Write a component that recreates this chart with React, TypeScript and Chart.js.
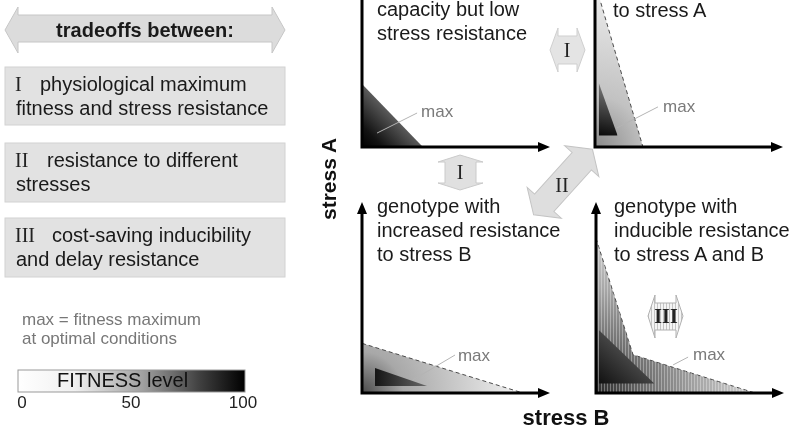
import React, { useEffect, useRef } from 'react';
import { Chart, registerables } from 'chart.js';
Chart.register(...registerables);

// ---------- data (each quadrant in its own axis units: stress B = x, stress A = y, 0..100) ----------
const AXIS_MAX = 100;

// top-left: high fitness capacity but low stress resistance
const tlTolerance = [{ x: 0, y: 33 }, { x: 32.4, y: 0 }];
const tlMaxLine = [{ x: 8, y: 7.3 }, { x: 29.3, y: 17.8 }];
const tlMaxLabel = { x: 31.4, y: 15.7 };

// top-right: increased resistance to stress A
const trTolerance = [{ x: 0, y: 86 }, { x: 25.5, y: 0 }];
const trOptimum = [{ x: 2, y: 33.5 }, { x: 12, y: 6 }];
const trOptimumBase = 6;
const trMaxLine = [{ x: 11.7, y: 10 }, { x: 33.5, y: 21 }];
const trMaxLabel = { x: 36.2, y: 18.3 };

// bottom-left: increased resistance to stress B
const blTolerance = [{ x: 0, y: 26 }, { x: 85.6, y: 0 }];
const blOptimum = [{ x: 6.9, y: 13.1 }, { x: 34.6, y: 3.7 }];
const blOptimumBase = 3.7;
const blMaxLine = [{ x: 27, y: 6.8 }, { x: 49.5, y: 19.9 }];
const blMaxLabel = { x: 51, y: 16.8 };

// bottom-right: inducible resistance to stress A and B
const brTolerance = [{ x: 0, y: 81 }, { x: 19.7, y: 20 }, { x: 84.6, y: 0 }];
const brOptimum = [{ x: 1.5, y: 33 }, { x: 31, y: 5 }];
const brOptimumBase = 5;
const brMaxLine = [{ x: 41, y: 14.7 }, { x: 49, y: 18.8 }];
const brMaxLabel = { x: 51.6, y: 17.3 };

// colour bar
const fitnessTicks = ['0', '50', '100'];

type Pt = { x: number; y: number };
type Stops = [number, string][];
type Paint =
  | { kind: 'linear'; from: Pt; to: Pt; stops: Stops }
  | { kind: 'radial'; at: Pt; r: number; stops: Stops }
  | { kind: 'hatch' };

function paint(chart: any, p: Paint): any {
  if (!chart.chartArea) return 'rgba(0,0,0,0)';
  const xs = chart.scales.x;
  const ys = chart.scales.y;
  const c: CanvasRenderingContext2D = chart.ctx;
  if (p.kind === 'linear') {
    const g = c.createLinearGradient(
      xs.getPixelForValue(p.from.x), ys.getPixelForValue(p.from.y),
      xs.getPixelForValue(p.to.x), ys.getPixelForValue(p.to.y));
    p.stops.forEach(([o, col]) => g.addColorStop(o, col));
    return g;
  }
  if (p.kind === 'radial') {
    const cx = xs.getPixelForValue(p.at.x);
    const cy = ys.getPixelForValue(p.at.y);
    const g = c.createRadialGradient(cx, cy, 0, cx, cy, p.r);
    p.stops.forEach(([o, col]) => g.addColorStop(o, col));
    return g;
  }
  const cv = document.createElement('canvas');
  cv.width = 3; cv.height = 3;
  const pc = cv.getContext('2d')!;
  pc.fillStyle = 'rgba(255,255,255,0.32)';
  pc.fillRect(0, 0, 1, 3);
  return c.createPattern(cv, 'repeat');
}

function shape(data: Pt[], base: number, p: Paint, order: number, dashed: boolean) {
  return {
    data,
    fill: { value: base },
    backgroundColor: (ctx: any) => paint(ctx.chart, p),
    borderColor: dashed ? '#4a4a4a' : 'rgba(0,0,0,0)',
    borderWidth: 1,
    borderDash: [4, 3],
    pointRadius: 0,
    tension: 0,
    order,
  };
}

function leader(data: Pt[]) {
  return { data, fill: false, borderColor: '#b4b4b4', borderWidth: 1, pointRadius: 0, tension: 0, order: 0 };
}

const FONT = '"Liberation Sans", Arial, sans-serif';
const SERIF = '"Liberation Serif", "Times New Roman", serif';

function axesPlugin(label: Pt) {
  return {
    id: 'axesAndMax',
    afterDatasetsDraw(chart: any) {
      const c: CanvasRenderingContext2D = chart.ctx;
      const xs = chart.scales.x, ys = chart.scales.y;
      const ox = xs.getPixelForValue(0), oy = ys.getPixelForValue(0);
      const xe = xs.getPixelForValue(AXIS_MAX), ye = ys.getPixelForValue(AXIS_MAX);
      c.save();
      c.strokeStyle = '#000';
      c.fillStyle = '#000';
      c.lineWidth = 3;
      c.beginPath();
      c.moveTo(ox - 1.5, oy);
      c.lineTo(xe - 8, oy);
      c.moveTo(ox, oy + 1.5);
      c.lineTo(ox, ye + 8);
      c.stroke();
      c.beginPath();
      c.moveTo(xe, oy); c.lineTo(xe - 12, oy - 5); c.lineTo(xe - 12, oy + 5); c.closePath();
      c.moveTo(ox, ye); c.lineTo(ox - 5, ye + 12); c.lineTo(ox + 5, ye + 12); c.closePath();
      c.fill();
      c.font = '17px ' + FONT;
      c.fillStyle = '#7a7a7a';
      c.textBaseline = 'alphabetic';
      c.fillText('max', xs.getPixelForValue(label.x), ys.getPixelForValue(label.y));
      c.restore();
    },
  };
}

const PAD = 10;
const CW = 188 + 2 * PAD;
const CH = 191 + 2 * PAD;

function Quadrant({ datasets, label, left, top }: { datasets: any[]; label: Pt; left: number; top: number }) {
  const ref = useRef<HTMLCanvasElement>(null);
  useEffect(() => {
    const chart = new Chart(ref.current!, {
      type: 'line',
      data: { datasets },
      options: {
        animation: false,
        responsive: false,
        devicePixelRatio: 1,
        events: [],
        layout: { padding: PAD },
        plugins: { legend: { display: false }, tooltip: { enabled: false }, title: { display: false } },
        scales: {
          x: { type: 'linear', min: 0, max: AXIS_MAX, display: false },
          y: { type: 'linear', min: 0, max: AXIS_MAX, display: false },
        },
      } as any,
      plugins: [axesPlugin(label)],
    } as any);
    return () => chart.destroy();
  }, []);
  return <canvas ref={ref} width={CW} height={CH} style={{ position: 'absolute', left, top }} />;
}

const tlSets = [
  leader(tlMaxLine),
  shape(tlTolerance, 0, { kind: 'linear', from: { x: 0, y: 0 }, to: { x: 16.3, y: 15.8 }, stops: [[0, '#000'], [0.35, '#121212'], [1, '#585858']] }, 3, false),
];
const trSets = [
  leader(trMaxLine),
  shape(trOptimum, trOptimumBase, { kind: 'linear', from: { x: 2, y: 6 }, to: { x: 8, y: 32 }, stops: [[0, '#0a0a0a'], [1, '#777']] }, 1, false),
  shape(trTolerance, 0, { kind: 'radial', at: { x: 0, y: 0 }, r: 170, stops: [[0, '#8a8a8a'], [0.3, '#c2c2c2'], [1, '#f2f2f2']] }, 3, true),
];
const blSets = [
  leader(blMaxLine),
  shape(blOptimum, blOptimumBase, { kind: 'linear', from: { x: 7, y: 5 }, to: { x: 35, y: 5 }, stops: [[0, '#151515'], [1, '#6a6a6a']] }, 1, false),
  shape(blTolerance, 0, { kind: 'radial', at: { x: 0, y: 0 }, r: 165, stops: [[0, '#4a4a4a'], [0.25, '#a8a8a8'], [1, '#f6f6f6']] }, 3, true),
];
const brSets = [
  leader(brMaxLine),
  shape(brOptimum, brOptimumBase, { kind: 'linear', from: { x: 1.5, y: 5 }, to: { x: 20, y: 25 }, stops: [[0, '#111'], [1, '#555']] }, 1, false),
  shape(brTolerance, 0, { kind: 'hatch' }, 2, false),
  shape(brTolerance, 0, { kind: 'radial', at: { x: 0, y: 0 }, r: 175, stops: [[0, '#2a2a2a'], [0.3, '#707070'], [0.6, '#a8a8a8'], [1, '#e0e0e0']] }, 3, true),
];

const T = { fontFamily: FONT, fontSize: 20, fill: '#1a1a1a' } as any;
const R = { fontFamily: SERIF, fontSize: 20, fill: '#222' } as any;

function Overlay() {
  return (
    <svg width={800} height={431} style={{ position: 'absolute', left: 0, top: 0 }}>
      <defs>
        <linearGradient id="fit" x1="0" y1="0" x2="1" y2="0">
          <stop offset="0" stopColor="#ffffff" />
          <stop offset="0.25" stopColor="#f0f0f0" />
          <stop offset="0.55" stopColor="#a0a0a0" />
          <stop offset="0.8" stopColor="#404040" />
          <stop offset="1" stopColor="#000000" />
        </linearGradient>
        <pattern id="vh" width="3" height="3" patternUnits="userSpaceOnUse">
          <rect width="3" height="3" fill="#f4f4f4" />
          <rect width="1" height="3" fill="#c4c4c4" />
        </pattern>
      </defs>
      {/* left panel */}
      <polygon points="5,30 18,7 18,15 272,15 272,7 285,30 272,53 272,42 18,42 18,53" fill="#dcdcdc" stroke="#c6c6c6" />
      <text x={145} y={37} textAnchor="middle" {...T} fontWeight="bold">tradeoffs between:</text>
      <rect x={5} y={67} width={280} height={58} fill="#e2e2e2" stroke="#d2d2d2" />
      <text x={15} y={91} {...R}>I</text>
      <text x={40} y={91} {...T}>physiological maximum</text>
      <text x={16} y={115} {...T}>fitness and stress resistance</text>
      <rect x={5} y={143} width={280} height={59} fill="#e2e2e2" stroke="#d2d2d2" />
      <text x={15} y={167} {...R}>II</text>
      <text x={47} y={167} {...T}>resistance to different</text>
      <text x={16} y={191} {...T}>stresses</text>
      <rect x={5} y={218} width={280} height={59} fill="#e2e2e2" stroke="#d2d2d2" />
      <text x={15} y={242} {...R}>III</text>
      <text x={52} y={242} {...T}>cost-saving inducibility</text>
      <text x={16} y={266} {...T}>and delay resistance</text>
      <text x={22} y={325} fontFamily={FONT} fontSize={17} fill="#777">max = fitness maximum</text>
      <text x={22} y={344} fontFamily={FONT} fontSize={17} fill="#777">at optimal conditions</text>
      <rect x={18} y={370} width={227} height={22} fill="url(#fit)" stroke="#999" />
      <text x={57} y={387} {...T} fill="#111">FITNESS level</text>
      <text x={22} y={408} textAnchor="middle" fontFamily={FONT} fontSize={17} fill="#222">{fitnessTicks[0]}</text>
      <text x={131} y={408} textAnchor="middle" fontFamily={FONT} fontSize={17} fill="#222">{fitnessTicks[1]}</text>
      <text x={243} y={408} textAnchor="middle" fontFamily={FONT} fontSize={17} fill="#222">{fitnessTicks[2]}</text>

      {/* quadrant titles */}
      <text x={377} y={16} {...T}>capacity but low</text>
      <text x={377} y={40} {...T}>stress resistance</text>
      <text x={613} y={17} {...T}>to stress A</text>
      <text x={377} y={213} {...T}>genotype with</text>
      <text x={377} y={237} {...T}>increased resistance</text>
      <text x={377} y={261} {...T}>to stress B</text>
      <text x={614} y={213} {...T}>genotype with</text>
      <text x={614} y={237} {...T}>inducible resistance</text>
      <text x={614} y={261} {...T}>to stress A and B</text>

      {/* axis titles */}
      <text transform="translate(336,179) rotate(-90)" textAnchor="middle" fontFamily={FONT} fontSize={21} fontWeight="bold" fill="#111">stress A</text>
      <text x={566} y={425} textAnchor="middle" fontFamily={FONT} fontSize={22} fontWeight="bold" fill="#111">stress B</text>

      {/* tradeoff arrows */}
      <polygon points="550,50 558,28 558,36 577,36 577,28 585,50 577,72 577,64 558,64 558,72" fill="#e4e4e4" stroke="#cfcfcf" />
      <text x={567} y={57} textAnchor="middle" {...R}>I</text>
      <polygon points="460,155 483,162 476,162 476,183 483,183 460,190 438,183 445,183 445,162 438,162" fill="#e0e0e0" stroke="#cacaca" />
      <text x={460} y={179} textAnchor="middle" {...R}>I</text>
      <polygon transform="translate(563,182) rotate(-48)" points="-44,0 -28,-23 -28,-13 28,-13 28,-23 44,0 28,23 28,13 -28,13 -28,23" fill="#dedede" stroke="#c4c4c4" />
      <text x={562} y={192} textAnchor="middle" {...R}>II</text>
      <polygon points="648,316 655,295 655,303 676,303 676,295 683,316 676,338 676,330 655,330 655,338" fill="url(#vh)" stroke="#b0b0b0" />
      <text x={666} y={323} textAnchor="middle" {...R} fontWeight="bold">III</text>
    </svg>
  );
}

export default function App() {
  return (
    <div style={{ position: 'absolute', left: 0, top: 0, width: 800, height: 431, overflow: 'hidden', background: '#fff' }}>
      <Quadrant datasets={tlSets} label={tlMaxLabel} left={352} top={-54} />
      <Quadrant datasets={trSets} label={trMaxLabel} left={585} top={-54} />
      <Quadrant datasets={blSets} label={blMaxLabel} left={352} top={192} />
      <Quadrant datasets={brSets} label={brMaxLabel} left={586} top={192} />
      <Overlay />
    </div>
  );
}
